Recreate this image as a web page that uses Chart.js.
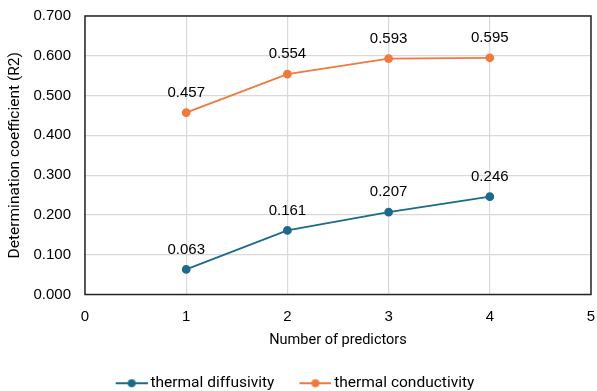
<!DOCTYPE html>
<html>
<head>
<meta charset="utf-8">
<script src="https://cdn.jsdelivr.net/npm/chart.js@4"></script>
<style>
  html, body { margin: 0; padding: 0; background: #fff; overflow: hidden; }
  #wrap { width: 597px; height: 401px; }
</style>
</head>
<body>
<div id="wrap"><canvas id="chart_canvas"></canvas></div>
<script>
const predictors = [1, 2, 3, 4];
const diffusivity = [0.063, 0.161, 0.207, 0.246];
const conductivity = [0.457, 0.554, 0.593, 0.595];
const seriesNames = ["thermal diffusivity", "thermal conductivity"];
const seriesColors = ["#1c6b8c", "#ee7a3e"];

const tickFont = { family: "'Liberation Sans', Arial, sans-serif", size: 15 };
const fontFamily = "Roboto, 'Noto Sans', sans-serif";

// line-with-dot legend swatch, shifted right so it sits close to the text
function swatch(color) {
  const c = document.createElement("canvas");
  c.width = 36; c.height = 10;
  const g = c.getContext("2d");
  g.strokeStyle = color; g.lineWidth = 2;
  g.beginPath(); g.moveTo(4, 5); g.lineTo(36, 5); g.stroke();
  g.fillStyle = color;
  g.beginPath(); g.arc(20, 5, 4, 0, Math.PI * 2); g.fill();
  return c;
}

const valueLabels = {
  id: "valueLabels",
  afterDatasetsDraw(chart) {
    const ctx = chart.ctx;
    ctx.save();
    ctx.font = tickFont.size + "px " + tickFont.family;
    ctx.fillStyle = "#000";
    ctx.textAlign = "center";
    ctx.textBaseline = "middle";
    chart.data.datasets.forEach((ds, i) => {
      chart.getDatasetMeta(i).data.forEach((pt, j) => {
        ctx.fillText(ds.data[j].y.toFixed(3), pt.x, pt.y - 20);
      });
    });
    ctx.restore();
  }
};

const plotBorder = {
  id: "plotBorder",
  beforeDatasetsDraw(chart) {
    const a = chart.chartArea, ctx = chart.ctx;
    ctx.save();
    ctx.strokeStyle = "#262626";
    ctx.lineWidth = 1.5;
    ctx.strokeRect(a.left, a.top, a.right - a.left, a.bottom - a.top);
    ctx.restore();
  }
};

const makeSeries = (vals, k) => ({
  label: seriesNames[k],
  data: predictors.map((x, i) => ({ x: x, y: vals[i] })),
  borderColor: seriesColors[k],
  backgroundColor: seriesColors[k],
  borderWidth: 1.75,
  pointStyle: "circle",
  pointRadius: 3.5,
  pointHoverRadius: 3.5
});

const context = document.getElementById("chart_canvas").getContext("2d");
new Chart(context, {
  type: "line",
  data: { datasets: [makeSeries(diffusivity, 0), makeSeries(conductivity, 1)] },
  options: {
    responsive: true,
    maintainAspectRatio: false,
    animation: false,
    layout: { padding: { top: 16, right: 6, left: 0, bottom: 0 } },
    plugins: {
      tooltip: { enabled: false },
      legend: {
        position: "bottom",
        labels: {
          usePointStyle: true,
          pointStyleWidth: 26,
          font: { family: fontFamily, size: 15.5 },
          color: "#000",
          padding: 26,
          generateLabels(chart) {
            return chart.data.datasets.map((ds, i) => ({
              text: ds.label,
              fillStyle: ds.borderColor,
              strokeStyle: ds.borderColor,
              pointStyle: swatch(ds.borderColor),
              fontColor: "#000",
              datasetIndex: i,
              lineWidth: 0
            }));
          }
        }
      }
    },
    scales: {
      x: {
        type: "linear",
        min: 0, max: 5,
        ticks: { stepSize: 1, font: tickFont, color: "#000", padding: 13 },
        grid: { color: "#d9d9d9", lineWidth: 1.2, drawTicks: false },
        border: { display: false },
        title: { display: true, text: "Number of predictors", font: { family: fontFamily, size: 14.5 }, color: "#000", padding: { top: 7, bottom: 0 } },
        afterFit(s) { s.height = 55; s.paddingLeft = 0; s.paddingRight = 0; }
      },
      y: {
        min: 0, max: 0.7,
        ticks: { stepSize: 0.1, font: tickFont, color: "#000", padding: 14,
                 callback: v => v.toFixed(3) },
        grid: { color: "#d9d9d9", lineWidth: 1.2, drawTicks: false },
        border: { display: false },
        title: { display: true, text: "Determination coefficient (R2)", font: { family: fontFamily, size: 15.5 }, color: "#000", padding: { top: 6, bottom: 0 } },
        afterFit(s) { s.width = 85; s.paddingTop = 0; s.paddingBottom = 0; }
      }
    }
  },
  plugins: [plotBorder, valueLabels]
});
</script>
</body>
</html>
